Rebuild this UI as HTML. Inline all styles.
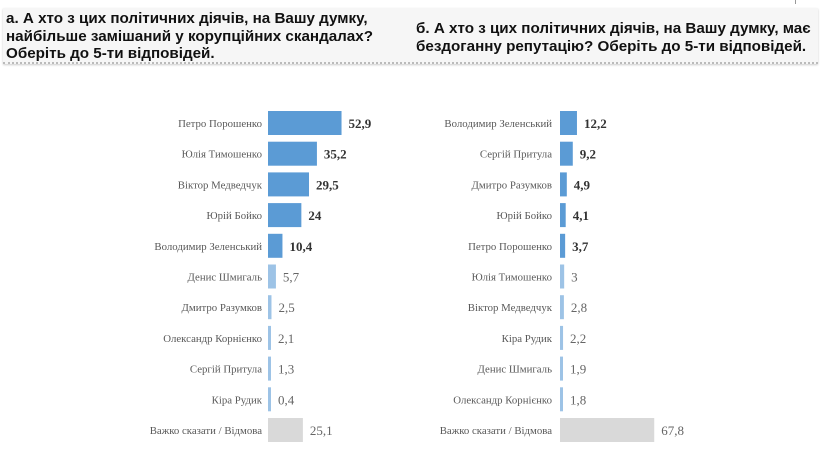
<!DOCTYPE html>
<html><head><meta charset="utf-8"><style>
body{margin:0;background:#fff;width:824px;height:456px;overflow:hidden;position:relative}
.hdr{position:absolute;left:3px;top:8px;width:815px;height:54px;background:#f6f6f6;border-bottom:2px dotted #bbb;box-shadow:0 1px 2px #ccc}
.q{position:absolute;font:bold 15.2px "Liberation Sans",sans-serif;color:#111;line-height:17.5px}
</style></head><body>
<div class="hdr"></div>
<div style="position:absolute;left:795px;top:0;width:1px;height:4px;background:#999"></div>
<div class="q" style="left:6px;top:10px">а. А хто з цих політичних діячів, на Вашу думку,<br>найбільше замішаний у корупційних скандалах?<br>Оберіть до 5-ти відповідей.</div>
<div class="q" style="left:416px;top:20px">б. А хто з цих політичних діячів, на Вашу думку, має<br>бездоганну репутацію? Оберіть до 5-ти відповідей.</div>
<svg width="824" height="456" style="position:absolute;left:0;top:0" font-family="Liberation Serif,serif">
</svg>
<script>
const svg=document.querySelector('svg');
function chart(x0,lx,data){
 data.forEach((d,i)=>{
  const cy=123+i*30.7;
  const w=Math.max(3,d[1]*1.39);
  const col=d[2]=='g'?'#d9d9d9':(d[2]=='d'?'#5b9bd5':'#9dc3e6');
  svg.insertAdjacentHTML('beforeend',
   `<rect x="${x0}" y="${cy-12}" width="${w}" height="24" fill="${col}"/>`+
   `<text x="${lx}" y="${cy+4}" text-anchor="end" font-size="10.8" fill="#595959">${d[0]}</text>`+
   `<text x="${x0+w+7}" y="${cy+5}" font-size="13" fill="${d[2]=='d'?'#333':'#666'}" font-weight="${d[2]=='d'?'bold':'normal'}">${d[3]}</text>`);
 });
}
chart(268,262,[["Петро Порошенко",52.9,'d',"52,9"],["Юлія Тимошенко",35.2,'d',"35,2"],["Віктор Медведчук",29.5,'d',"29,5"],["Юрій Бойко",24,'d',"24"],["Володимир Зеленський",10.4,'d',"10,4"],["Денис Шмигаль",5.7,'l',"5,7"],["Дмитро Разумков",2.5,'l',"2,5"],["Олександр Корнієнко",2.1,'l',"2,1"],["Сергій Притула",1.3,'l',"1,3"],["Кіра Рудик",0.4,'l',"0,4"],["Важко сказати / Відмова",25.1,'g',"25,1"]]);
chart(560,552,[["Володимир Зеленський",12.2,'d',"12,2"],["Сергій Притула",9.2,'d',"9,2"],["Дмитро Разумков",4.9,'d',"4,9"],["Юрій Бойко",4.1,'d',"4,1"],["Петро Порошенко",3.7,'d',"3,7"],["Юлія Тимошенко",3,'l',"3"],["Віктор Медведчук",2.8,'l',"2,8"],["Кіра Рудик",2.2,'l',"2,2"],["Денис Шмигаль",1.9,'l',"1,9"],["Олександр Корнієнко",1.8,'l',"1,8"],["Важко сказати / Відмова",67.8,'g',"67,8"]]);
</script>
</body></html>
